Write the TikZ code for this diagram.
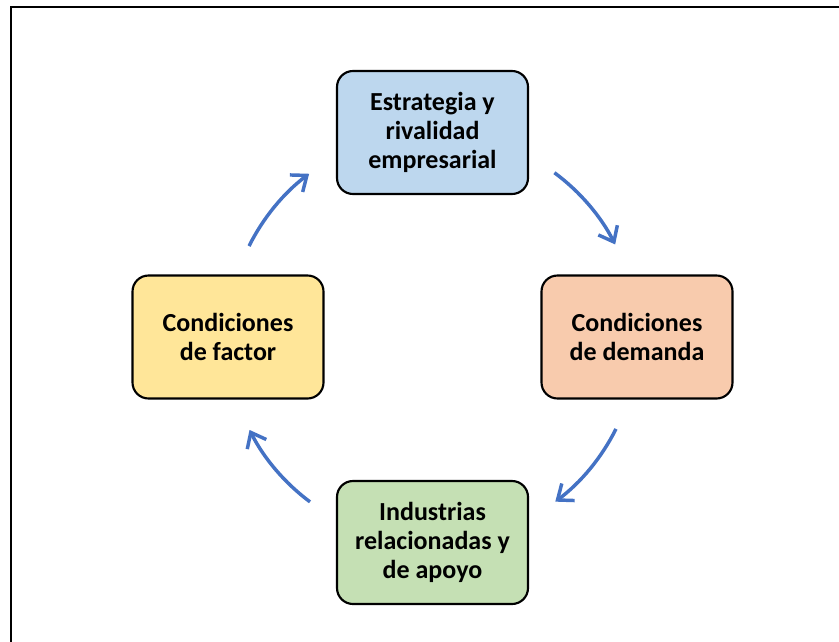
\documentclass[tikz,border=0pt]{standalone}
\usepackage{fontspec}
\setmainfont{Carlito}
\usetikzlibrary{arrows.meta}

\definecolor{boxblue}{RGB}{189,215,238}
\definecolor{boxorange}{RGB}{248,203,173}
\definecolor{boxyellow}{RGB}{255,230,153}
\definecolor{boxgreen}{RGB}{197,224,180}
\definecolor{arrowblue}{RGB}{68,114,196}

\tikzset{
  diamondbox/.style={draw=black, line width=1.6pt, rounded corners=12pt,
    minimum width=143.25pt, minimum height=92.25pt, align=center,
    inner sep=0.75pt, font=\bfseries\fontsize{19.5}{22}\selectfont},
  cyclearrow/.style={draw=arrowblue, line width=2.6pt,
    -{Straight Barb[length=10pt,width=16pt,line width=2.6pt]}}
}

\begin{document}
\begin{tikzpicture}[x=0.75pt,y=0.75pt,yscale=-1,xscale=1]
\useasboundingbox (0,0) rectangle (839,642);

%Straight Lines [frame]
\draw [line width=1.5pt] (11,642) -- (11,7.5) -- (839,7.5) ;

%Shape: Rectangle [top]
\node [diamondbox, fill=boxblue] (estrategia) at (432.5,132.5) {Estrategia y\\rivalidad\\empresarial};
%Shape: Rectangle [right]
\node [diamondbox, fill=boxorange] (demanda) at (637,337) {Condiciones\\de demanda};
%Shape: Rectangle [bottom]
\node [diamondbox, fill=boxgreen] (industrias) at (432.5,542.5) {Industrias\\relacionadas y\\de apoyo};
%Shape: Rectangle [left]
\node [diamondbox, fill=boxyellow] (factor) at (228,337) {Condiciones\\de factor};

% centre of the cycle
\coordinate (cen) at (432.5,337.5);

%Curve Lines
\draw [cyclearrow] ([shift={(-53.5:205)}]cen) arc (-53.5:-27:205) ;
%Curve Lines
\draw [cyclearrow] ([shift={(26.5:205)}]cen) arc (26.5:53.2:205) ;
%Curve Lines
\draw [cyclearrow] ([shift={(126.7:205)}]cen) arc (126.7:153.2:205) ;
%Curve Lines
\draw [cyclearrow] ([shift={(206.5:205)}]cen) arc (206.5:233:205) ;
\end{tikzpicture}
\end{document}
